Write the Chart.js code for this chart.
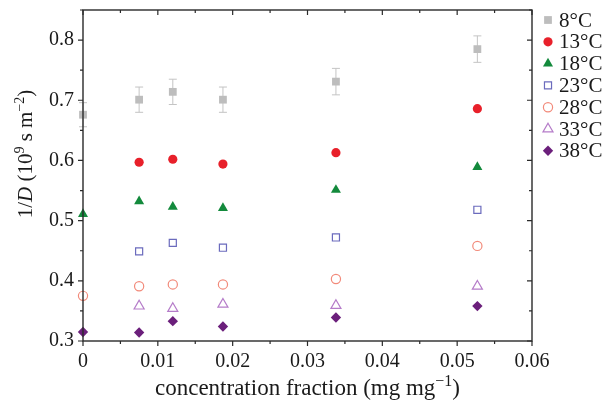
<!DOCTYPE html>
<html><head><meta charset="utf-8">
<script src="https://cdn.jsdelivr.net/npm/chart.js@4/dist/chart.umd.min.js"></script>
<style>html,body{margin:0;padding:0;background:#fff}#wrap{width:604px;height:408px;position:relative}</style>
</head><body><div id="wrap"><canvas id="c" width="604" height="408"></canvas></div>
<script>
// ---- data ----
const concentration = [0, 0.0075, 0.012, 0.0187, 0.0338, 0.0527];
const seriesLabels = ['8°C', '13°C', '18°C', '23°C', '28°C', '33°C', '38°C'];
const d8  = [0.676, 0.701, 0.714, 0.701, 0.731, 0.785];
const err8 = [0.020, 0.021, 0.021, 0.021, 0.022, 0.022];
const d13 = [null, 0.597, 0.602, 0.594, 0.613, 0.686];
const d18 = [0.511, 0.532, 0.523, 0.521, 0.551, 0.589];
const d23 = [null, 0.449, 0.463, 0.455, 0.472, 0.518];
const d28 = [0.375, 0.391, 0.394, 0.394, 0.403, 0.458];
const d33 = [null, 0.358, 0.354, 0.361, 0.359, 0.391];
const d38 = [0.315, 0.314, 0.333, 0.324, 0.339, 0.358];
const xTickLabels = ['0', '0.01', '0.02', '0.03', '0.04', '0.05', '0.06'];
const yTickLabels = ['0.3', '0.4', '0.5', '0.6', '0.7', '0.8'];
const xTitle = ['concentration fraction (mg mg', '−1', ')'];
const yTitle = ['1/', 'D', ' (10', '9', ' s m', '−2', ')'];

const allSeries = [d8, d13, d18, d23, d28, d33, d38];
const styles = [
  {pointStyle: 'rect',     radius: 5.5, fill: '#bdbdbd', stroke: '#bdbdbd', bw: 0},
  {pointStyle: 'circle',   radius: 4.6, fill: '#e8202a', stroke: '#e8202a', bw: 0},
  {pointStyle: 'triangle', radius: 5.8, fill: '#138a3c', stroke: '#138a3c', bw: 0},
  {pointStyle: 'rect',     radius: 5.0, fill: '#ffffff', stroke: '#6b6bbd', bw: 1.2},
  {pointStyle: 'circle',   radius: 4.6, fill: '#ffffff', stroke: '#f28a7a', bw: 1.2},
  {pointStyle: 'triangle', radius: 5.8, fill: '#ffffff', stroke: '#b57cc9', bw: 1.2},
  {pointStyle: 'rectRot',  radius: 5.2, fill: '#6b1f7b', stroke: '#6b1f7b', bw: 0}
];

const datasets = allSeries.map((s, i) => ({
  label: seriesLabels[i],
  data: concentration.map((x, j) => ({x: x, y: s[j]})).filter(p => p.y !== null),
  showLine: false,
  pointStyle: styles[i].pointStyle,
  pointRadius: styles[i].radius,
  pointHoverRadius: styles[i].radius,
  pointBackgroundColor: styles[i].fill,
  pointBorderColor: styles[i].stroke,
  pointBorderWidth: styles[i].bw,
  backgroundColor: styles[i].fill,
  borderColor: styles[i].stroke,
  clip: false
}));

const SERIF = '"Liberation Serif", "DejaVu Serif", serif';
const AXIS = '#2a2a2a';

const errorBars = {
  id: 'errorBars',
  beforeDatasetsDraw(chart) {
    const {ctx, scales: {x, y}} = chart;
    ctx.save();
    ctx.strokeStyle = '#c4c4c4';
    ctx.lineWidth = 1;
    concentration.forEach((cx, j) => {
      const px = x.getPixelForValue(cx);
      const top = y.getPixelForValue(d8[j] + err8[j]);
      const bot = y.getPixelForValue(d8[j] - err8[j]);
      ctx.beginPath();
      ctx.moveTo(px, top); ctx.lineTo(px, bot);
      ctx.moveTo(px - 4, top); ctx.lineTo(px + 4, top);
      ctx.moveTo(px - 4, bot); ctx.lineTo(px + 4, bot);
      ctx.stroke();
    });
    ctx.restore();
  }
};

function segFont(i, supIdx, italIdx, size) {
  const sup = supIdx.includes(i);
  const it = italIdx.includes(i);
  return (it ? 'italic ' : '') + (sup ? Math.round(size * 0.68) : size) + 'px ' + SERIF;
}
function drawSegments(ctx, segs, supIdx, italIdx, size, x0, y0) {
  let x = x0;
  segs.forEach((t, i) => {
    ctx.font = segFont(i, supIdx, italIdx, size);
    ctx.fillText(t, x, supIdx.includes(i) ? y0 - size * 0.38 : y0);
    x += ctx.measureText(t).width;
  });
}
function measureSegments(ctx, segs, supIdx, italIdx, size) {
  let w = 0;
  segs.forEach((t, i) => {
    ctx.font = segFont(i, supIdx, italIdx, size);
    w += ctx.measureText(t).width;
  });
  return w;
}

const frame = {
  id: 'frame',
  afterDraw(chart) {
    const {ctx, chartArea: a, scales: {x, y}} = chart;
    ctx.save();
    ctx.strokeStyle = AXIS;
    ctx.lineWidth = 1.4;
    ctx.strokeRect(a.left, a.top, a.right - a.left, a.bottom - a.top);
    ctx.lineWidth = 1.2;
    ctx.beginPath();
    x.ticks.forEach(t => {
      const px = x.getPixelForValue(t.value);
      const major = Math.round(t.value * 1000) % 10 === 0;
      const L = major ? 5 : 3;
      ctx.moveTo(px, a.bottom); ctx.lineTo(px, a.bottom + L);
      ctx.moveTo(px, a.top); ctx.lineTo(px, a.top + L);
    });
    y.ticks.forEach(t => {
      const py = y.getPixelForValue(t.value);
      const major = Math.round(t.value * 100) % 10 === 0;
      const L = major ? 5 : 3;
      ctx.moveTo(a.left, py); ctx.lineTo(a.left - L, py);
      ctx.moveTo(a.right, py); ctx.lineTo(a.right - L, py);
    });
    ctx.stroke();

    // axis titles
    ctx.fillStyle = '#1a1a1a';
    ctx.textBaseline = 'alphabetic';
    ctx.textAlign = 'left';
    const xs = 23;
    const xw = measureSegments(ctx, xTitle, [1], [], xs);
    drawSegments(ctx, xTitle, [1], [], xs, (a.left + a.right) / 2 - xw / 2, 395);
    const ys = 21;
    const yw = measureSegments(ctx, yTitle, [3, 5], [1], ys);
    ctx.translate(32, 154);
    ctx.rotate(-Math.PI / 2);
    drawSegments(ctx, yTitle, [3, 5], [1], ys, -yw / 2, 0);
    ctx.restore();

    // legend
    ctx.save();
    const lx = 548, ly0 = 20, step = 21.8;
    seriesLabels.forEach((lab, i) => {
      const st = styles[i];
      const cy = ly0 + i * step;
      ctx.fillStyle = st.fill;
      ctx.strokeStyle = st.stroke;
      ctx.lineWidth = st.bw;
      Chart.helpers.drawPoint(ctx, {pointStyle: st.pointStyle, radius: st.radius, rotation: 0, borderWidth: st.bw}, lx, cy);
      ctx.fillStyle = '#1a1a1a';
      ctx.font = '21px ' + SERIF;
      ctx.textBaseline = 'middle';
      ctx.textAlign = 'left';
      ctx.fillText(lab, 559, cy + 1);
    });
    ctx.restore();
  }
};

new Chart(document.getElementById('c'), {
  type: 'scatter',
  data: {datasets: datasets},
  options: {
    responsive: false,
    animation: false,
    devicePixelRatio: 1,
    layout: {padding: {left: 0, right: 72, top: 10, bottom: 0}},
    plugins: {legend: {display: false}, tooltip: {enabled: false}},
    scales: {
      x: {
        type: 'linear', min: 0, max: 0.06,
        afterFit: s => { s.height = 67; s.paddingLeft = 0; s.paddingRight = 0; },
        grid: {display: false, drawTicks: true, tickLength: 5},
        border: {display: false},
        ticks: {
          stepSize: 0.005, autoSkip: false, maxRotation: 0, padding: 4,
          color: '#1a1a1a', font: {family: SERIF, size: 20},
          callback: v => {
            const k = Math.round(v * 1000);
            return k % 10 === 0 ? xTickLabels[k / 10] : '';
          }
        },
        title: {display: false}
      },
      y: {
        type: 'linear', min: 0.3, max: 0.85,
        afterFit: s => { s.width = 83; s.paddingTop = 0; s.paddingBottom = 0; },
        grid: {display: false, drawTicks: true, tickLength: 5},
        border: {display: false},
        ticks: {
          stepSize: 0.05, autoSkip: false, padding: 4,
          color: '#1a1a1a', font: {family: SERIF, size: 20},
          callback: v => {
            const k = Math.round(v * 100);
            return (k % 10 === 0 && k <= 80) ? yTickLabels[(k - 30) / 10] : '';
          }
        },
        title: {display: false}
      }
    }
  },
  plugins: [errorBars, frame]
});
</script>
</body></html>
